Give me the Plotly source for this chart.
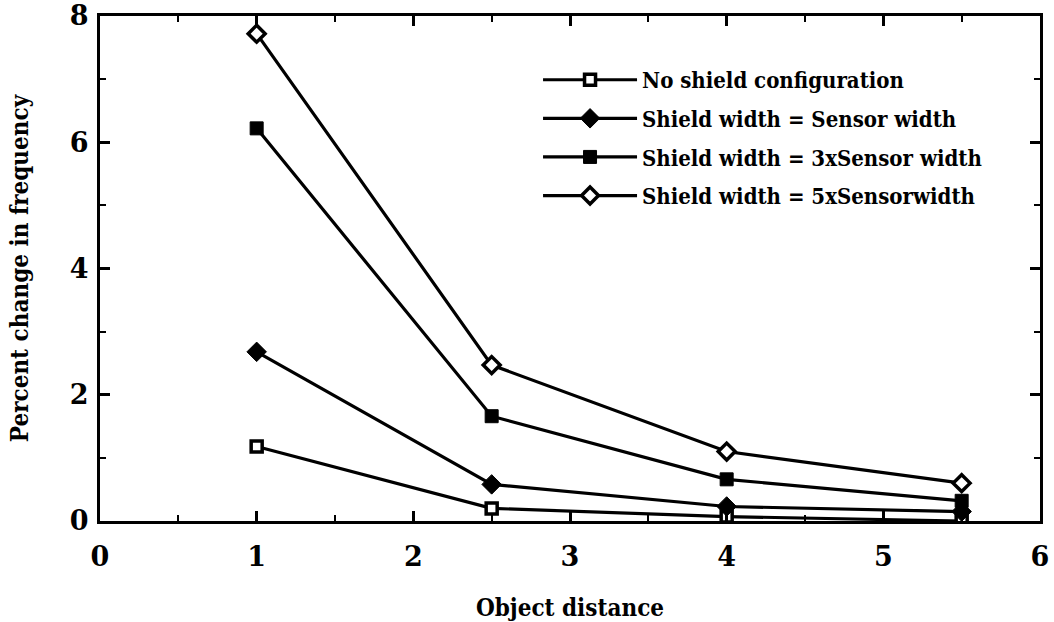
import plotly.graph_objects as go

x_vals = [1, 2.5, 4, 5.5]
no_shield = [1.18, 0.20, 0.07, 0.0]
shield_1x = [2.68, 0.58, 0.23, 0.15]
shield_3x = [6.22, 1.66, 0.66, 0.32]
shield_5x = [7.72, 2.47, 1.10, 0.60]

names = [
    "No shield configuration",
    "Shield width = Sensor width",
    "Shield width = 3xSensor width",
    "Shield width = 5xSensorwidth",
]
series = [no_shield, shield_1x, shield_3x, shield_5x]
symbols = ["square", "diamond", "square", "diamond"]
fills = ["white", "black", "black", "white"]
sizes = [11, 15, 13, 13]
edge_w = [3.5, 1, 1, 3.5]

text_font = "DejaVu Serif Condensed, DejaVu Serif, serif"
tick_font = "DejaVu Serif, Liberation Serif, serif"

fig = go.Figure()
for i, (nm, ys, sym, fc, sz, ew) in enumerate(zip(names, series, symbols, fills, sizes, edge_w)):
    fig.add_trace(go.Scatter(
        x=x_vals, y=ys, name=nm, mode="lines+markers",
        legendgroup=f"g{i}",
        line=dict(color="black", width=3.2),
        marker=dict(symbol=sym, size=sz, color=fc,
                    line=dict(color="black", width=ew)),
    ))

axis_common = dict(
    showline=True, linecolor="black", linewidth=3, mirror="ticks",
    ticks="inside", ticklen=10, tickwidth=2.5, tickcolor="black",
    showgrid=False, zeroline=False, automargin=False,
    ticklabeloverflow="allow",
    tickfont=dict(family=tick_font, size=27, color="black", weight="bold"),
)

fig.update_xaxes(range=[0, 6], dtick=1, tick0=0, ticklabelstandoff=10,
                 minor=dict(ticks="inside", dtick=0.5, ticklen=6, tickwidth=2, tickcolor="black"),
                 title=dict(text="Object distance", standoff=29,
                            font=dict(family=text_font, size=24, color="black", weight="bold")),
                 **axis_common)
fig.update_yaxes(range=[0, 8], dtick=2, tick0=0, ticklabelstandoff=3,
                 minor=dict(ticks="inside", dtick=1, ticklen=6, tickwidth=2, tickcolor="black"),
                 title=dict(text="Percent change in frequency", standoff=35,
                            font=dict(family=text_font, size=24, color="black", weight="bold")),
                 **axis_common)

fig.update_layout(
    width=1054, height=622,
    margin=dict(l=100, r=14, t=16, b=101),
    paper_bgcolor="white", plot_bgcolor="white",
    showlegend=True,
    legend=dict(x=0.466, y=0.915, xanchor="left", yanchor="top",
                bgcolor="rgba(0,0,0,0)", tracegroupgap=7, itemwidth=94,
                font=dict(family=text_font, size=22, color="black", weight="bold")),
)

# remove the browser's default 8px body margin so the figure fills the window exactly
fig.write_html("out.html", config={"displayModeBar": False},
               post_script="document.body.style.margin='0';")
